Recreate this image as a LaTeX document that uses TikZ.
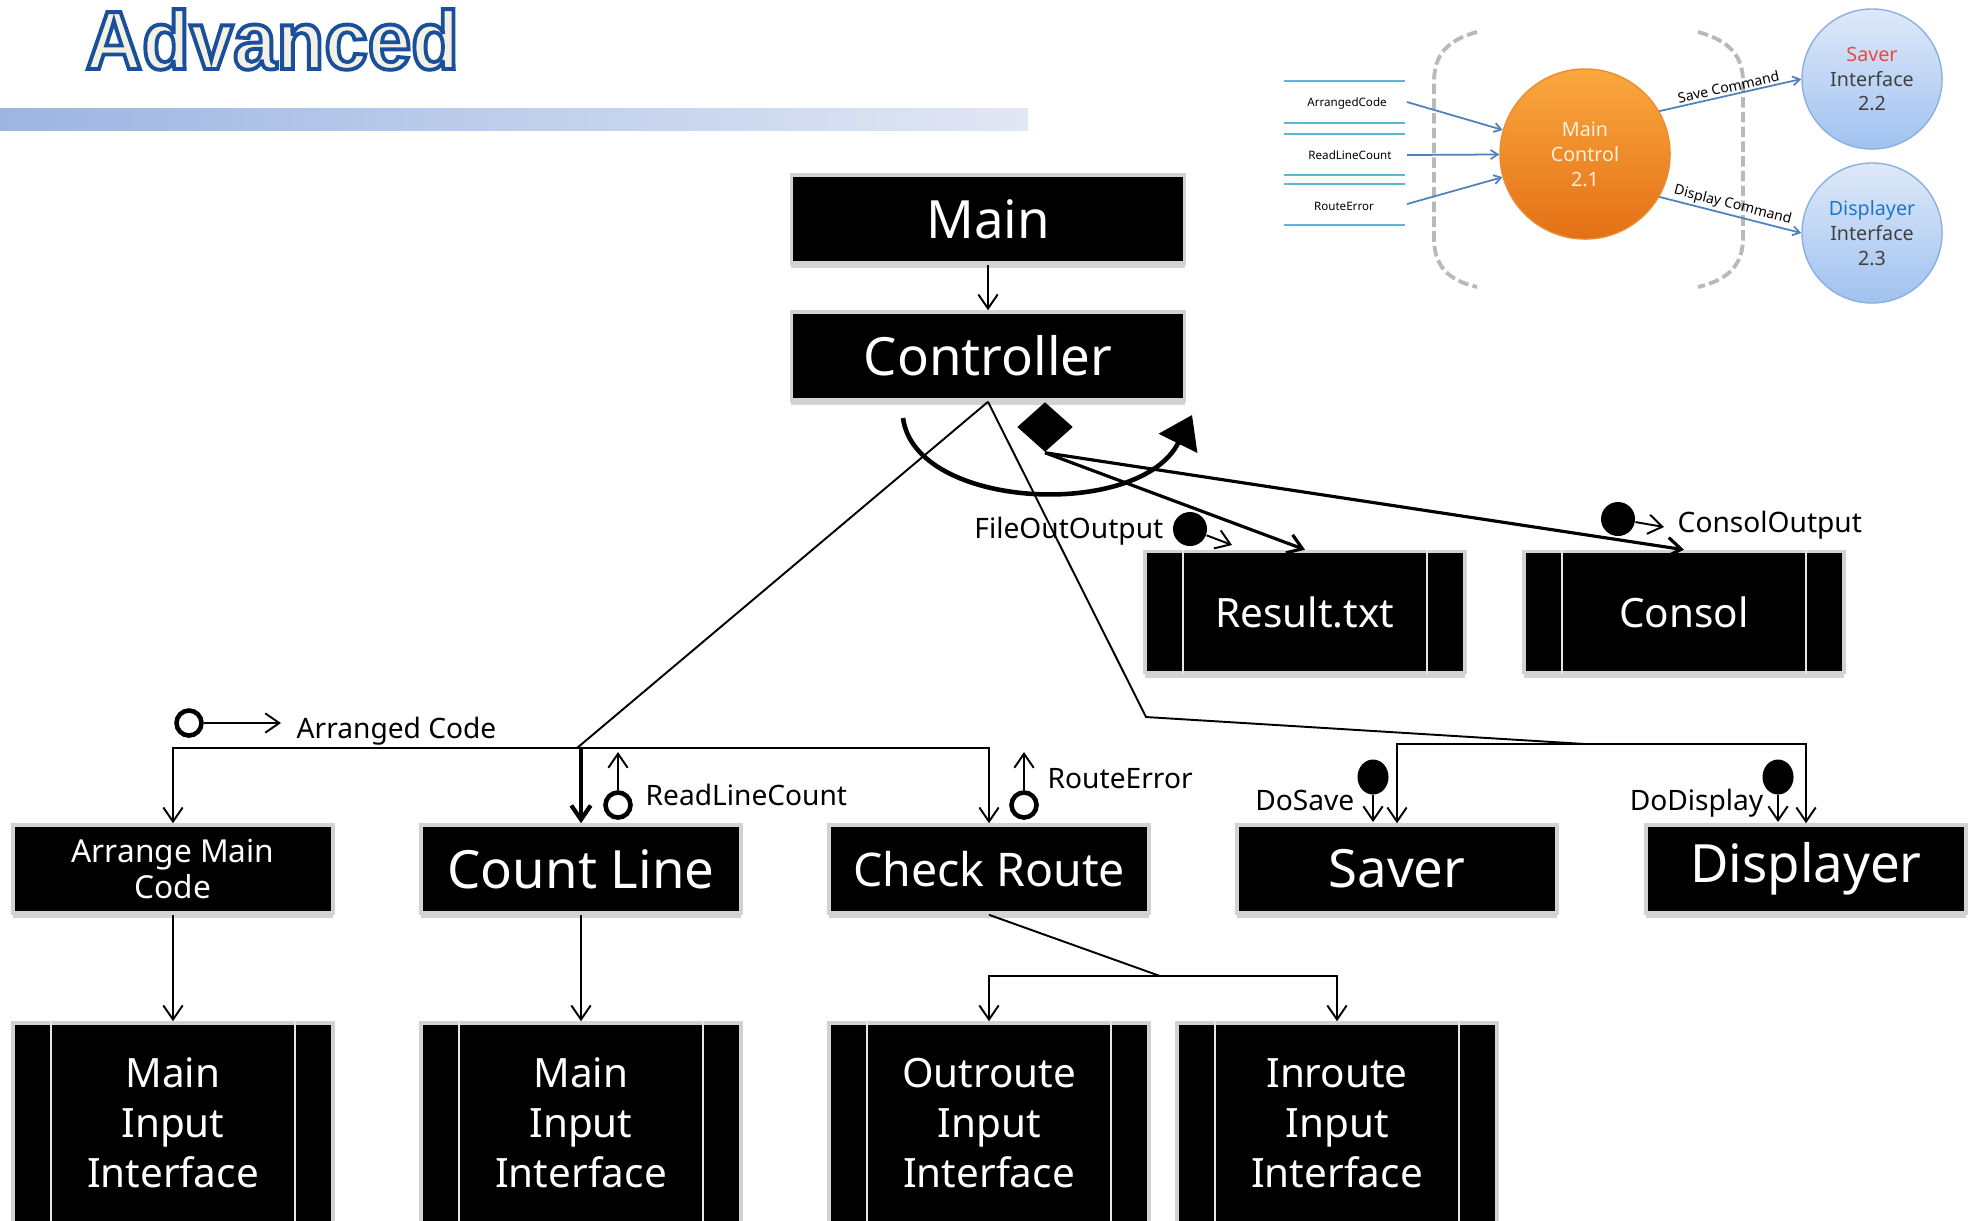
\documentclass[tikz,border=0pt]{standalone}
\usepackage{fontspec}
\setmainfont{Noto Sans}
\newfontfamily\titlefont{Liberation Sans}[FakeStretch=0.945]
\usetikzlibrary{arrows.meta,positioning,shapes.geometric,shadows}

\definecolor{titleblue}{RGB}{26,79,156}
\definecolor{titlecream}{RGB}{243,240,228}
\definecolor{barleft}{RGB}{157,181,226}
\definecolor{barright}{RGB}{226,231,244}
\definecolor{flowcyan}{RGB}{91,183,213}
\definecolor{flowblue}{RGB}{79,129,189}
\definecolor{ctrltop}{RGB}{250,168,62}
\definecolor{ctrlbot}{RGB}{228,112,22}
\definecolor{ctrledge}{RGB}{236,140,50}
\definecolor{ifacetop}{RGB}{222,233,249}
\definecolor{ifacebot}{RGB}{160,194,240}
\definecolor{ifaceedge}{RGB}{140,175,225}
\definecolor{saverred}{RGB}{232,72,64}
\definecolor{dispblue}{RGB}{30,118,200}

\tikzset{
  box/.style={rectangle, fill=black, draw=gray!35, line width=1pt, text=white, inner sep=0pt,
    drop shadow={shadow xshift=0pt, shadow yshift=-0.05cm, opacity=0.35}},
  topbox/.style={box, minimum width=3.93cm, minimum height=0.88cm, font=\fontsize{15}{18}\selectfont},
  modbox/.style={box, minimum width=3.2cm, minimum height=0.88cm, font=\fontsize{15}{18}\selectfont},
  filebox/.style={box, minimum width=3.2cm, minimum height=1.21cm, font=\fontsize{11.5}{14}\selectfont},
  ifbox/.style={box, minimum width=3.2cm, minimum height=2cm, align=center, font=\fontsize{11.5}{14.2}\selectfont},
  procbar/.style={draw=gray!20, line width=0.7pt},
  conn/.style={line width=0.55pt},
  arr/.style={conn, -{Straight Barb[length=4pt,width=5.5pt]}},
  flagring/.style={circle, draw, line width=1.3pt, minimum size=0.25cm, inner sep=0pt},
  datadot/.style={circle, fill=black, inner sep=0pt},
  lbl/.style={font=\fontsize{8}{9.6}\selectfont, inner sep=0pt},
  inlbl/.style={font=\fontsize{3.3}{4}\selectfont, inner sep=0pt},
  flowline/.style={draw=flowcyan, line width=0.6pt},
  flowarr/.style={draw=flowblue, line width=0.5pt, -{Straight Barb[length=2pt,width=2.6pt]}},
  bubble/.style={circle, inner sep=0pt, align=center, font=\fontsize{5.6}{7.1}\selectfont},
  bracket/.style={draw=gray!55, line width=1.1pt, dash pattern=on 3pt off 1.2pt},
  titletext/.style={anchor=base west, inner sep=0pt, font={\titlefont\bfseries\fontsize{23.5}{27}\selectfont}}
}

% outlined text: fill and stroke render mode
\newcommand\outlined[1]{%
  \special{pdf:literal direct 2 Tr 1.1 w 0.102 0.31 0.612 RG}#1\special{pdf:literal direct 0 Tr}}

\newcommand\procbars[1]{%
  \draw[procbar] ([xshift=0.4cm]#1.north west) -- ([xshift=0.4cm]#1.south west)
                 ([xshift=-0.4cm]#1.north east) -- ([xshift=-0.4cm]#1.south east);}

\begin{document}
\begin{tikzpicture}[x=0.01cm, y=-0.01cm]
    \useasboundingbox (0,0) rectangle (1977,1220);

    % Title
    \node[titletext, text=titlecream] (title) at (85,69) {\outlined{Advanced}};
    \shade[left color=barleft, right color=barright] (0,108) rectangle (1028,130);

    % Small data flow view
    \foreach \y in {81,123,134,175,184,225}
      \draw[flowline] (1284,\y) -- (1405,\y);
    \node[inlbl] (inac) at (1347,103) {ArrangedCode};
    \node[inlbl] (inrl) at (1350,155) {ReadLineCount};
    \node[inlbl] (inre) at (1344,206) {RouteError};
    \draw[bracket] (1477,32) .. controls (1447,40) and (1434,55) .. (1434,82) -- (1434,238)
      .. controls (1434,265) and (1447,280) .. (1477,287);
    \draw[bracket] (1698,32) .. controls (1728,40) and (1743,55) .. (1743,82) -- (1743,238)
      .. controls (1743,265) and (1728,280) .. (1698,287);
    \node[bubble, minimum size=1.7cm, top color=ctrltop, bottom color=ctrlbot, draw=ctrledge,
      text=white!88!orange] (mc) at (1585,154) {Main\\Control\\2.1};
    \node[bubble, minimum size=1.4cm, top color=ifacetop, bottom color=ifacebot, draw=ifaceedge,
      text=black!75] (sav) at (1872,79) {\textcolor{saverred}{Saver}\\Interface\\2.2};
    \node[bubble, minimum size=1.4cm, top color=ifacetop, bottom color=ifacebot, draw=ifaceedge,
      text=black!75] (dsp) at (1872,233) {\textcolor{dispblue}{Displayer}\\Interface\\2.3};
    \coordinate (inacout) at (1407,102);
    \coordinate (inrlout) at (1407,155);
    \coordinate (inreout) at (1407,204);
    \draw[flowarr] (inacout) -- (mc);
    \draw[flowarr] (inrlout) -- (mc);
    \draw[flowarr] (inreout) -- (mc);
    \draw[flowarr] (mc.30) -- node[sloped, above, inner sep=0.6pt, font=\fontsize{4}{5}\selectfont] {Save Command} (sav.west);
    \draw[flowarr] (mc.-30) -- node[sloped, above, inner sep=0.6pt, font=\fontsize{4}{5}\selectfont] {Display Command} (dsp.west);

    % Modules
    \node[topbox] (main) at (988,219) {Main};
    \node[topbox] (ctrl) at (988,356) {Controller};
    \node[filebox] (result) at (1305,612) {Result.txt};
    \node[filebox] (consol) at (1684,612) {Consol};
    \node[modbox, align=center, font=\fontsize{9}{10.2}\selectfont] (arrange) at (173,869) {Arrange Main\\Code};
    \node[modbox] (count) at (581,869) {Count Line};
    \node[modbox, font=\fontsize{13.2}{16}\selectfont] (check) at (989,869) {Check Route};
    \node[modbox] (saver) at (1397,869) {Saver};
    \node[modbox] (displayer) at (1806,869) {Displayer};
    \node[ifbox] (mainin) at (173,1123) {Main\\Input\\Interface};
    \node[ifbox] (countin) at (581,1123) {Main\\Input\\Interface};
    \node[ifbox] (outroute) at (989,1123) {Outroute\\Input\\Interface};
    \node[ifbox] (inroute) at (1337,1123) {Inroute\\Input\\Interface};
    \foreach \n in {result,consol,mainin,countin,outroute,inroute}
      \procbars{\n};

    % Calls
    \coordinate (jl) at (577,748);
    \coordinate (jr) at (1146,717);
    \coordinate (js) at (1585,744);
    \coordinate (jc) at (1160,976);
    \draw[arr] (main) -- (ctrl);
    \draw[conn] (ctrl.south) -- (jl);
    \draw[conn] (ctrl.south) -- (jr) -- (js);
    \draw[arr] (jl) -| (arrange);
    \draw[arr] (jl) -| (check);
    \draw[arr, line width=1.2pt] (count.north |- jl) -- (count);
    \draw[arr] (js) -| (saver);
    \draw[arr] (js) -| (displayer);
    \draw[conn] (check.south) -- (jc);
    \draw[arr] (jc) -| (outroute);
    \draw[arr] (jc) -| (inroute);
    \draw[arr] (arrange) -- (mainin);
    \draw[arr] (count) -- (countin);

    % Selection and loop
    \node[diamond, fill=black, minimum width=0.56cm, minimum height=0.5cm, inner sep=0pt] (select) at (1045,427) {};
    \draw[arr, line width=0.9pt] (select.south) -- (result.north);
    \draw[arr, line width=0.9pt] (select.south) -- (consol.north);
    \draw[line width=1.3pt, -{Triangle[length=9pt,width=12pt]}] (903,418) .. controls (915,510) and (1140,520) .. (1192,415);

    % Couples
    \node[datadot, minimum size=0.34cm] (fodot) at (1190,529) {};
    \coordinate (foend) at (1232,545);
    \draw[arr] (fodot) -- (foend);
    \node[lbl, anchor=base east] (folbl) at (1164,538) {FileOutOutput};
    \node[datadot, minimum size=0.34cm] (codot) at (1618,519) {};
    \coordinate (coend) at (1664,527);
    \draw[arr] (codot) -- (coend);
    \node[lbl, anchor=base west] (colbl) at (1677,532) {ConsolOutput};
    \node[flagring] (acring) at (189,723) {};
    \coordinate (acend) at (281,723);
    \draw[arr] (acring) -- (acend);
    \node[lbl, anchor=base west] (aclbl) at (296,738) {Arranged Code};
    \node[flagring] (rlring) at (618,805) {};
    \coordinate (rlend) at (618,752);
    \draw[arr] (rlring) -- (rlend);
    \node[lbl, anchor=base west] (rllbl) at (645,805) {ReadLineCount};
    \node[flagring] (rering) at (1024,805) {};
    \coordinate (reend) at (1024,752);
    \draw[arr] (rering) -- (reend);
    \node[lbl, anchor=base west] (relbl) at (1047,788) {RouteError};
    \node[datadot, ellipse, minimum width=0.31cm, minimum height=0.35cm] (dsdot) at (1373,777) {};
    \coordinate (dsend) at (1373,822);
    \draw[arr] (dsdot) -- (dsend);
    \node[lbl, anchor=base east] (dslbl) at (1355,810) {DoSave};
    \node[datadot, ellipse, minimum width=0.31cm, minimum height=0.35cm] (dddot) at (1778,777) {};
    \coordinate (ddend) at (1778,822);
    \draw[arr] (dddot) -- (ddend);
    \node[lbl, anchor=base east] (ddlbl) at (1764,810) {DoDisplay};
\end{tikzpicture}
\end{document}
